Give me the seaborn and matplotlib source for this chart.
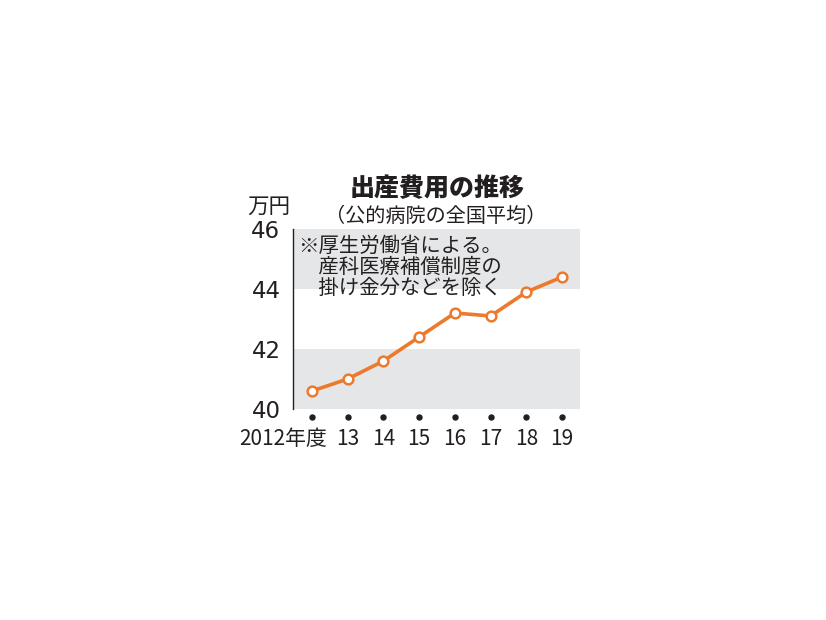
import matplotlib
matplotlib.use("Agg")
import matplotlib.pyplot as plt
import matplotlib.transforms as mtransforms
import seaborn as sns

# 出産費用の推移（公的病院の全国平均、万円）
years = [2012, 2013, 2014, 2015, 2016, 2017, 2018, 2019]
year_labels = ["2012年度", "13", "14", "15", "16", "17", "18", "19"]
costs = [40.6, 41.0, 41.6, 42.4, 43.2, 43.1, 43.9, 44.4]
y_ticks = [40, 42, 44, 46]
bands = [(40, 42), (44, 46)]

title = "出産費用の推移"
subtitle = "（公的病院の全国平均）"
unit = "万円"
note_lines = ["※厚生労働省による。", "　産科医療補償制度の", "　掛け金分などを除く"]

ORANGE = "#ed7a2c"
GRAY = "#e5e6e7"
INK = "#231f20"

sns.set_theme(style="white")
plt.rcParams["font.family"] = ["Noto Sans CJK JP", "DejaVu Sans"]

fig = plt.figure(figsize=(8.26, 6.2), dpi=100)
ax = fig.add_axes([293 / 826, 1 - 409 / 620, 287 / 826, 180 / 620])

for lo, hi in bands:
    ax.axhspan(lo, hi, color=GRAY, lw=0, zorder=0)

sns.lineplot(
    x=years, y=costs, ax=ax, color=ORANGE, lw=2.6,
    marker="o", markersize=7, markerfacecolor="white",
    markeredgecolor=ORANGE, markeredgewidth=1.8, zorder=3,
)

# 年の下の黒い点
ax.plot(years, [-0.044] * len(years), "o", ms=3.6, color=INK,
        transform=ax.get_xaxis_transform(), clip_on=False)

ax.set_xlim(2011.47, 2019.5)
ax.set_ylim(40, 46)
for side in ["top", "right", "bottom"]:
    ax.spines[side].set_visible(False)
ax.spines["left"].set_color(INK)
ax.spines["left"].set_linewidth(1.0)

ax.set_yticks(y_ticks)
ax.set_yticklabels([str(v) for v in y_ticks])
ax.tick_params(axis="y", direction="out", length=7, width=1, color=INK, pad=2)
for lbl in ax.get_yticklabels():
    lbl.set_fontfamily(["DejaVu Sans"])
    lbl.set_fontsize(16.5)
    lbl.set_color(INK)

ax.set_xticks(years)
ax.set_xticklabels(year_labels)
ax.tick_params(axis="x", length=0, pad=14)
for lbl in ax.get_xticklabels():
    lbl.set_fontfamily(["Noto Sans CJK JP"])
    lbl.set_fontsize(15)
    lbl.set_color(INK)
first = ax.get_xticklabels()[0]
first.set_horizontalalignment("right")
first.set_transform(first.get_transform()
                    + mtransforms.ScaledTranslation(15 / 100, 0, fig.dpi_scale_trans))

ax.set_xlabel("")
ax.set_ylabel("")

fig.text(437 / 826, 1 - 188 / 620, title, ha="center", va="center",
         fontsize=18, fontweight="black", color=INK)
fig.text(436 / 826, 1 - 216 / 620, subtitle, ha="center", va="center",
         fontsize=14.5, color=INK)
fig.text(269 / 826, 1 - 207 / 620, unit, ha="center", va="center",
         fontsize=15.5, color=INK)

for i, line in enumerate(note_lines):
    fig.text(298 / 826, 1 - (246 + 21.5 * i) / 620, line, ha="left", va="center",
             fontsize=14.7, color=INK)

fig.savefig("out.png", dpi=100, facecolor="white")
